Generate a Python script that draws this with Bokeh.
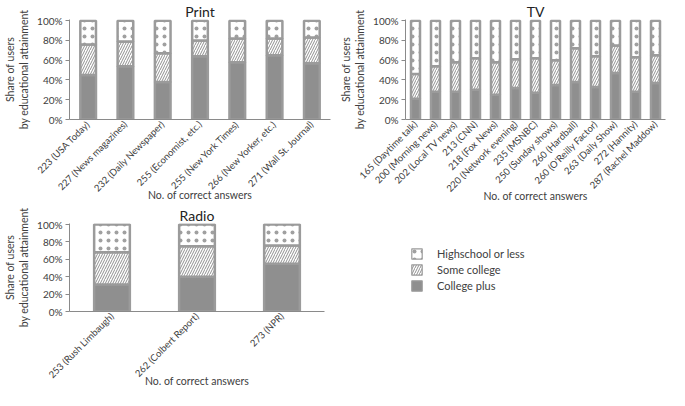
import math
from bokeh.plotting import figure
from bokeh.models import ColumnDataSource, Range1d, FixedTicker, PrintfTickFormatter, Legend, LegendItem
from bokeh.layouts import column, row
from bokeh.embed import file_html
from bokeh.resources import INLINE

# ---------------- data ----------------
series_names = ["Highschool or less", "Some college", "College plus"]

print_cats = ["223 (USA Today)", "227 (News magazines)", "232 (Daily Newspaper)",
              "255 (Economist, etc.)", "255 (New York Times)", "266 (New Yorker, etc.)",
              "271 (Wall St. Journal)"]
print_college = [45, 54, 38, 64, 58, 65, 57]
print_some = [31, 25, 29, 16, 24, 17, 26]
print_hs = [24, 21, 33, 20, 18, 18, 17]

tv_cats = ["165 (Daytime talk)", "200 (Morning news)", "202 (Local TV news)", "213 (CNN)",
           "218 (Fox News)", "220 (Network evening)", "235 (MSNBC)", "250 (Sunday shows)",
           "260 (Hardball)", "260 (O'Reilly Factor)", "263 (Daily Show)", "272 (Hannity)",
           "287 (Rachel Maddow)"]
tv_college = [21, 28, 28, 30, 25, 32, 27, 35, 38, 33, 47, 28, 37]
tv_some = [25, 26, 30, 32, 33, 29, 35, 25, 34, 31, 28, 35, 28]
tv_hs = [54, 46, 42, 38, 42, 39, 38, 40, 28, 36, 25, 37, 35]

radio_cats = ["253 (Rush Limbaugh)", "262 (Colbert Report)", "273 (NPR)"]
radio_college = [31, 40, 55]
radio_some = [37, 35, 21]
radio_hs = [32, 25, 24]

y_ticks = [0, 20, 40, 60, 80, 100]

# ---------------- styles ----------------
FONT = "Lato"
TXT = "#404040"
AXIS = "#8a8a8a"
BORDER = "#9b9b9b"
SOLID = "#8f8f8f"


def style_bar(kind):
    base = dict(line_color=BORDER, line_width=2.5)
    if kind == "college":
        base.update(fill_color=SOLID)
    elif kind == "some":
        base.update(fill_color="white", hatch_pattern="right_diagonal_line",
                    hatch_color="#909090", hatch_scale=5, hatch_weight=1)
    else:
        base.update(fill_color="white", hatch_pattern="dot",
                    hatch_color="#a0a0a0", hatch_scale=8, hatch_weight=0.5)
    return base


def make_panel(title, cats, college, some, hs, width, height, left, right, bar_width,
               xlabel_standoff):
    p = figure(x_range=cats, y_range=Range1d(0, 101.2), width=width, height=height,
               min_border_left=left, min_border_right=right, min_border_top=0,
               min_border_bottom=0, output_backend="svg", toolbar_location=None,
               title=title)
    p.title.text_font = FONT
    p.title.text_font_size = "14px"
    p.title.text_font_style = "normal"
    p.title.text_color = "#222222"
    p.title.align = "center"
    p.title.standoff = 0
    p.outline_line_color = None
    p.grid.visible = False

    c_top = list(college)
    s_top = [c + s for c, s in zip(college, some)]
    h_top = [st + h for st, h in zip(s_top, hs)]
    src = ColumnDataSource(dict(x=cats, c0=[0] * len(cats), c1=c_top, s1=s_top, h1=h_top))
    p.vbar(x="x", bottom="c0", top="c1", width=bar_width, source=src, **style_bar("college"))
    p.vbar(x="x", bottom="c1", top="s1", width=bar_width, source=src, **style_bar("some"))
    p.vbar(x="x", bottom="s1", top="h1", width=bar_width, source=src, **style_bar("hs"))

    p.yaxis.ticker = FixedTicker(ticks=y_ticks)
    p.yaxis.formatter = PrintfTickFormatter(format="%d%%")
    p.yaxis.axis_label = "Share of users\nby educational attainment"
    p.xaxis.axis_label = "No. of correct answers"
    for ax in (p.xaxis, p.yaxis):
        ax.axis_line_color = AXIS
        ax.major_tick_line_color = AXIS
        ax.minor_tick_line_color = None
        ax.major_label_text_font = FONT
        ax.major_label_text_font_size = "9.5px"
        ax.major_label_text_color = TXT
        ax.axis_label_text_font = FONT
        ax.axis_label_text_font_size = "10.5px"
        ax.axis_label_text_font_style = "normal"
        ax.axis_label_text_color = TXT
    p.yaxis.major_label_text_font_size = "10px"
    p.yaxis.major_tick_in = 0
    p.yaxis.major_tick_out = 4
    p.yaxis.axis_label_standoff = 4
    p.yaxis.major_label_standoff = 3
    p.xaxis.major_tick_line_color = None
    p.xaxis.major_tick_out = 0
    p.xaxis.major_tick_in = 0
    p.xaxis.major_label_orientation = math.pi / 4
    p.xaxis.major_label_standoff = 3
    p.xaxis.axis_label_standoff = xlabel_standoff
    return p


p_print = make_panel("Print", print_cats, print_college, print_some, print_hs,
                     336, 204, 46, 6, 0.42, -11)
p_tv = make_panel("TV", tv_cats, tv_college, tv_some, tv_hs,
                  333, 204, 50, 4, 0.45, -11)
p_radio = make_panel("Radio", radio_cats, radio_college, radio_some, radio_hs,
                     336, 186, 48, 12, 0.42, -12)

# legend panel (its frame lines up with the Radio frame inside the row)
p_leg = figure(width=333, height=186, x_range=Range1d(0, 1), y_range=Range1d(0, 1),
               output_backend="svg", toolbar_location=None,
               min_border_left=50, min_border_right=0, min_border_top=0,
               min_border_bottom=0)
p_leg.axis.visible = False
p_leg.grid.visible = False
p_leg.outline_line_color = None
# renderers that only carry the styles for the legend swatches (they draw nothing)
swatch = ColumnDataSource(dict(x=[0.5], b=[float("nan")], t=[float("nan")]))
lh = p_leg.vbar(x="x", bottom="b", top="t", width=0.1, source=swatch, **style_bar("hs"))
ls = p_leg.vbar(x="x", bottom="b", top="t", width=0.1, source=swatch, **style_bar("some"))
lc = p_leg.vbar(x="x", bottom="b", top="t", width=0.1, source=swatch, **style_bar("college"))
for r in (lh, ls, lc):
    r.glyph.line_width = 1.2
legend = Legend(items=[LegendItem(label=series_names[0], renderers=[lh]),
                       LegendItem(label=series_names[1], renderers=[ls]),
                       LegendItem(label=series_names[2], renderers=[lc])],
                location="top_left", border_line_color=None, background_fill_alpha=0,
                glyph_width=13, glyph_height=13, spacing=3, padding=0, margin=24,
                label_text_font=FONT, label_text_font_size="11px",
                label_text_color=TXT, label_standoff=14, label_height=13)
p_leg.add_layout(legend)

layout = column(row(p_print, p_tv), row(p_radio, p_leg))
open("out.html", "w").write(file_html(layout, INLINE))
